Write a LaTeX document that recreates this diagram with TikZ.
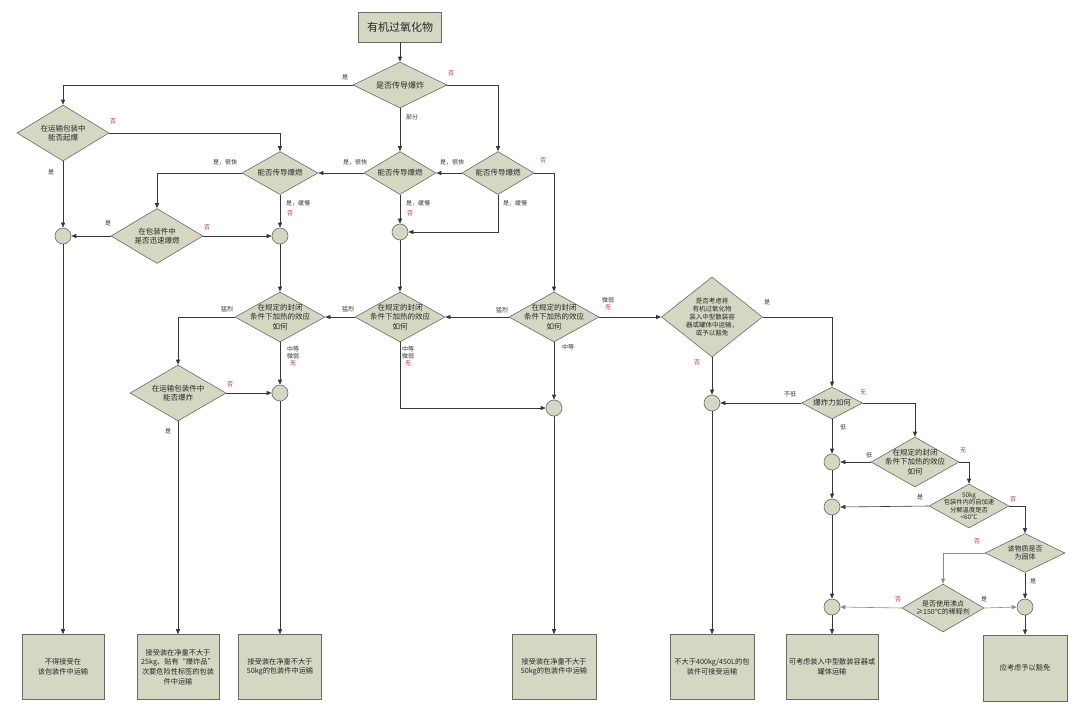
\documentclass[tikz,border=0pt]{standalone}
\usepackage{fontspec}
\newfontfamily\cjk{Noto Sans CJK SC}
\usetikzlibrary{shapes.geometric,arrows.meta}
\definecolor{boxfill}{RGB}{214,215,195}
\definecolor{edgec}{RGB}{105,105,100}
\definecolor{linec}{RGB}{55,55,55}
\definecolor{lightl}{RGB}{140,140,140}
\definecolor{nored}{RGB}{180,50,70}
\tikzset{
 dia/.style={diamond, draw=edgec, fill=boxfill, line width=0.6pt, inner sep=0pt},
 dtxt/.style={font=\cjk\fontsize{7.5}{9}\selectfont, align=center, inner sep=0pt, text=black!85},
 etxt/.style={font=\cjk\fontsize{7.5}{9.3}\selectfont, align=center, inner sep=0pt, text=black!85},
 stxt/.style={font=\cjk\fontsize{6.3}{7.5}\selectfont, align=center, inner sep=0pt, text=black!85},
 circ/.style={circle, draw=edgec, fill=boxfill, line width=0.6pt, minimum size=16pt, inner sep=0pt},
 endbox/.style={rectangle, draw=edgec, fill=boxfill, line width=0.6pt, inner sep=0pt, align=center, font=\cjk\fontsize{7.2}{9.6}\selectfont, text=black!85},
 lbl/.style={font=\cjk\fontsize{6}{7.2}\selectfont, inner sep=0pt, text=black!80, align=center},
 nlbl/.style={lbl, text=nored},
 arr/.style={draw=linec, line width=0.6pt, -{Triangle[length=5pt,width=4pt]}},
 larr/.style={arr, draw=lightl},
}
\begin{document}
\begin{tikzpicture}[x=1pt,y=-1pt]
\fill[white] (0,0) rectangle (1080,716);
\useasboundingbox (0,0) rectangle (1080,716);

% title
\node[endbox, minimum width=83pt, minimum height=30pt, font=\cjk\fontsize{11}{13}\selectfont] (title) at (400,27) {有机过氧化物};

% diamonds
\node[dia, minimum width=94pt, minimum height=46pt] (d1) at (400,85) {};
\node[dtxt, font=\cjk\fontsize{8}{9}\selectfont] (d1t) at (d1) {是否传导爆炸};
\node[dia, minimum width=92pt, minimum height=56pt] (dL1) at (63,133) {};
\node[dtxt] (dL1t) at (dL1) {在运输包装中\\能否起爆};
\node[dia, minimum width=76pt, minimum height=43pt] (dLd) at (280,173) {};
\node[dtxt] (dLdt) at (dLd) {能否传导爆燃};
\node[dia, minimum width=72pt, minimum height=43pt] (dM) at (400,173) {};
\node[dtxt] (dMt) at (dM) {能否传导爆燃};
\node[dia, minimum width=72pt, minimum height=43pt] (dR) at (498,173) {};
\node[dtxt] (dRt) at (dR) {能否传导爆燃};
\node[dia, minimum width=92pt, minimum height=55pt] (dRapid) at (157,236) {};
\node[dtxt] (dRapidt) at (dRapid) {在包装件中\\是否迅速爆燃};
\node[dia, minimum width=90pt, minimum height=50pt] (eA) at (280,317) {};
\node[etxt] (eAt) at (eA) {在规定的封闭\\条件下加热的效应\\如何};
\node[dia, minimum width=90pt, minimum height=50pt] (eB) at (400,317) {};
\node[etxt] (eBt) at (eB) {在规定的封闭\\条件下加热的效应\\如何};
\node[dia, minimum width=90pt, minimum height=50pt] (eR) at (554,317) {};
\node[etxt] (eRt) at (eR) {在规定的封闭\\条件下加热的效应\\如何};
\node[dia, minimum width=96pt, minimum height=56pt] (dExp) at (178,393) {};
\node[dtxt] (dExpt) at (dExp) {在运输包装件中\\能否爆炸};
\node[dia, minimum width=101pt, minimum height=80pt] (big) at (712,317) {};
\node[stxt, font=\cjk\fontsize{6.5}{8}\selectfont] (bigt) at (big) {是否考虑将\\有机过氧化物\\装入中型散装容\\器或罐体中运输，\\或予以豁免};
\node[dia, minimum width=61pt, minimum height=32pt] (dPow) at (832,403) {};
\node[dtxt] (dPowt) at (dPow) {爆炸力如何};
\node[dia, minimum width=88pt, minimum height=50pt] (eF) at (915,462) {};
\node[etxt] (eFt) at (eF) {在规定的封闭\\条件下加热的效应\\如何};
\node[dia, minimum width=80pt, minimum height=44pt] (dS) at (969,506) {};
\node[stxt] (dSt) at (dS) {50kg\\包装件内的自加速\\分解温度是否\\<60℃};
\node[dia, minimum width=80pt, minimum height=39pt] (dSol) at (1025,553) {};
\node[dtxt, font=\cjk\fontsize{7}{8.5}\selectfont] (dSolt) at (dSol) {该物质是否\\为固体};
\node[dia, minimum width=82pt, minimum height=48pt] (dB) at (943,608) {};
\node[dtxt, font=\cjk\fontsize{7}{8.5}\selectfont] (dBt) at (dB) {是否使用沸点\\≥150℃的稀释剂};

% circles
\node[circ] (cL) at (63,236) {};
\node[circ] (cR) at (280,236) {};
\node[circ] (cM) at (400,232) {};
\node[circ] (cC) at (280,393) {};
\node[circ] (cD) at (554,408) {};
\node[circ] (cE) at (712,403) {};
\node[circ] (cF1) at (832,462) {};
\node[circ] (cF2) at (832,507) {};
\node[circ] (cF3) at (832,607) {};
\node[circ] (cG) at (1025,607) {};

% end boxes
\node[endbox, minimum width=82pt, minimum height=65pt] (bA) at (63,667) {不得接受在\\该包装件中运输};
\node[endbox, minimum width=82pt, minimum height=65pt] (bB) at (178,667) {接受装在净重不大于\\25kg、贴有“爆炸品”\\次要危险性标签的包装\\件中运输};
\node[endbox, minimum width=83pt, minimum height=65pt] (bC) at (280,667) {接受装在净重不大于\\50kg的包装件中运输};
\node[endbox, minimum width=84pt, minimum height=65pt] (bD) at (554,667) {接受装在净重不大于\\50kg的包装件中运输};
\node[endbox, minimum width=84pt, minimum height=65pt] (bE) at (712,667) {不大于400kg/450L的包\\装件可接受运输};
\node[endbox, minimum width=92pt, minimum height=65pt] (bF) at (832,667) {可考虑装入中型散装容器或\\罐体运输};
\node[endbox, minimum width=84pt, minimum height=66pt] (bG) at (1025,668) {应考虑予以豁免};

% connectors
\draw[arr] (title.south) -- (d1.north);
\draw[arr] (d1.west) -| (dL1.north);
\draw[arr] (d1.south) -- (dM.north);
\draw[arr] (d1.east) -| (dR.north);
\draw[arr] (dL1.east) -| (dLd.north);
\draw[arr] (dL1.south) -- (cL.north);
\draw[arr] (dLd.west) -| (dRapid.north);
\draw[arr] (dLd.south) -- (cR.north);
\draw[arr] (dRapid.west) -- (cL.east);
\draw[arr] (dRapid.east) -- (cR.west);
\draw[arr] (cL.south) -- (bA.north);
\draw[arr] (cR.south) -- (eA.north);
\draw[arr] (dM.west) -- (dLd.east);
\draw[arr] (dR.west) -- (dM.east);
\draw[arr] (dM.south) -- (cM.north);
\draw[arr] (dR.south) |- (cM.east);
\draw[arr] (dR.east) -| (eR.north);
\draw[arr] (cM.south) -- (eB.north);
\draw[arr] (eB.west) -- (eA.east);
\draw[arr] (eR.west) -- (eB.east);
\draw[arr] (eA.west) -| (dExp.north);
\draw[arr] (eA.south) -- (cC.north);
\draw[arr] (dExp.east) -- (cC.west);
\draw[arr] (dExp.south) -- (bB.north);
\draw[arr] (cC.south) -- (bC.north);
\draw[arr] (eB.south) |- (cD.west);
\draw[arr] (eR.south) -- (cD.north);
\draw[arr] (cD.south) -- (bD.north);
\draw[arr] (eR.east) -- (big.west);
\draw[arr] (big.east) -| (dPow.north);
\draw[arr] (big.south) -- (cE.north);
\draw[arr] (dPow.west) -- (cE.east);
\draw[arr] (cE.south) -- (bE.north);
\draw[arr] (dPow.south) -- (cF1.north);
\draw[arr] (dPow.east) -| (eF.north);
\draw[arr] (eF.west) -- (cF1.east);
\draw[arr] (eF.east) -| (dS.north);
\draw[arr] (cF1.south) -- (cF2.north);
\draw[arr] (dS.west) -- (cF2.east);
\draw[arr] (dS.east) -| (dSol.north);
\draw[arr] (cF2.south) -- (cF3.north);
\draw[larr] (dSol.west) -| (dB.north);
\draw[arr] (dSol.south) -- (cG.north);
\draw[larr] (dB.west) -- (cF3.east);
\draw[larr] (dB.east) -- (cG.west);
\draw[arr] (cF3.south) -- (bF.north);
\draw[arr] (cG.south) -- (bG.north);

% labels
\node[lbl] (l1) at (345,77) {是};
\node[nlbl] (l2) at (451,73) {否};
\node[lbl] (l3) at (412,117) {部分};
\node[nlbl] (l4) at (113,121) {否};
\node[lbl] (l5) at (51,172) {是};
\node[lbl] (l6) at (225,162) {是，很快};
\node[lbl] (l7) at (298,203) {是，缓慢};
\node[nlbl] (l8) at (290,213) {否};
\node[lbl] (l9) at (108,223) {是};
\node[nlbl] (l10) at (207,227) {否};
\node[lbl] (l11) at (355,162) {是，很快};
\node[lbl] (l12) at (418,203) {是，缓慢};
\node[nlbl] (l13) at (410,213) {否};
\node[lbl] (l14) at (452,162) {是，很快};
\node[lbl] (l15) at (515,203) {是，缓慢};
\node[nlbl] (l16) at (543,160) {否};
\node[lbl] (l17) at (227,309) {猛烈};
\node[lbl] (l18) at (293,356) {中等\\微弱\\\textcolor{nored}{无}};
\node[lbl] (l19) at (348,309) {猛烈};
\node[lbl] (l20) at (408,356) {中等\\微弱\\\textcolor{nored}{无}};
\node[lbl] (l21) at (502,310) {猛烈};
\node[lbl] (l22) at (608,304) {微弱\\\textcolor{nored}{无}};
\node[lbl] (l23) at (568,347) {中等};
\node[nlbl] (l24) at (230,384) {否};
\node[lbl] (l25) at (168,431) {是};
\node[lbl] (l26) at (767,302) {是};
\node[nlbl] (l27) at (697,362) {否};
\node[lbl] (l28) at (790,394) {不低};
\node[lbl] (l29) at (843,427) {低};
\node[nlbl] (l30) at (863,392) {无};
\node[lbl] (l31) at (869,455) {低};
\node[nlbl] (l32) at (963,450) {无};
\node[lbl] (l33) at (920,497) {是};
\node[nlbl] (l34) at (1013,499) {否};
\node[nlbl] (l35) at (977,541) {否};
\node[lbl] (l36) at (1033,581) {是};
\node[nlbl] (l37) at (898,599) {否};
\node[lbl] (l38) at (984,599) {是};
\end{tikzpicture}
\end{document}
